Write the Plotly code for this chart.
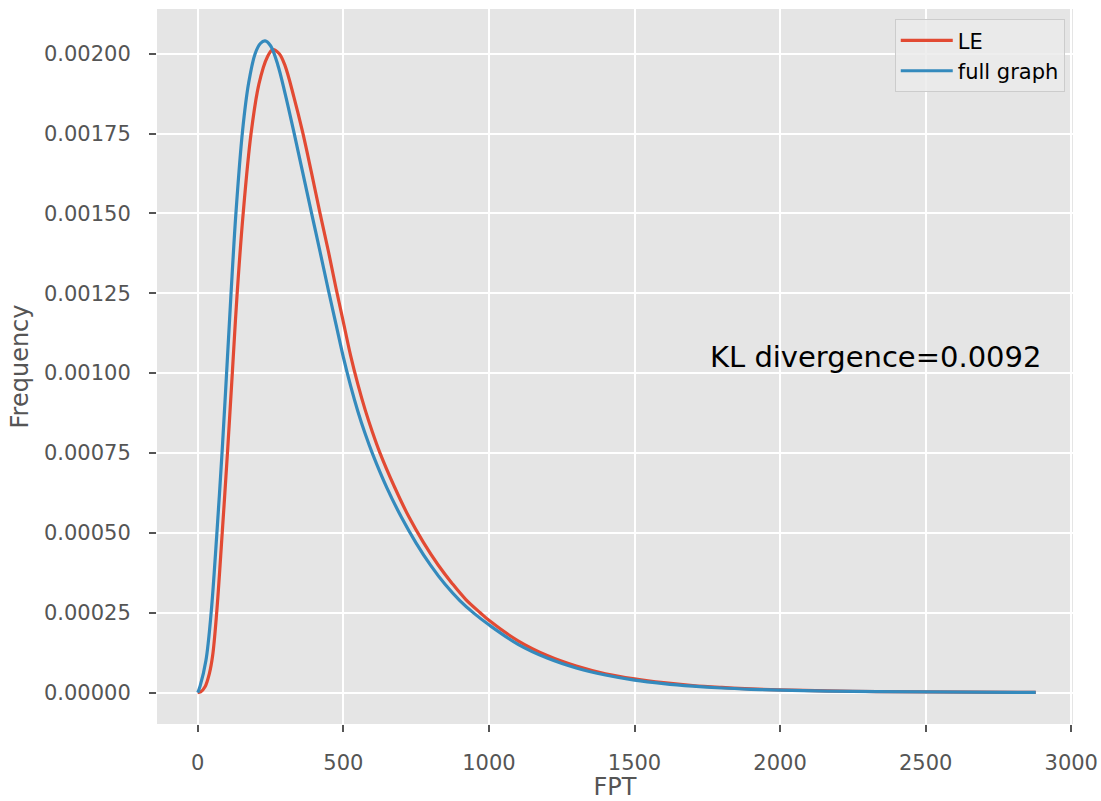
import plotly.graph_objects as go

# Data
le_x = [0, 10, 25, 40, 51, 65, 84, 102, 118, 135, 156, 183, 210, 239, 258, 280, 300,
        330, 360, 390, 420, 449, 475, 500, 525, 550, 575, 600, 625, 675, 725, 775, 825,
        875, 920, 970, 1000, 1100, 1200, 1300, 1400, 1500, 1600, 1700, 1800, 1900, 2000,
        2250, 2500, 2878]
le_y = [0, 0.000002, 0.000018, 0.00006, 0.000115, 0.00025, 0.0005, 0.00075, 0.00099,
        0.001245, 0.0015, 0.00175, 0.001905, 0.00199, 0.002013, 0.002, 0.001962,
        0.001865, 0.001755, 0.00163, 0.0015, 0.00138, 0.001265, 0.00116, 0.001055,
        0.000965, 0.000885, 0.000815, 0.000752, 0.000645, 0.00055, 0.00047, 0.0004,
        0.00034, 0.000292, 0.00025, 0.000226, 0.000162, 0.000116, 0.000083, 0.000059,
        0.000043, 0.000031, 0.000022, 0.000016, 0.0000113, 0.0000082,
        0.000004, 0.000002, 0.0000006]

full_x = [0, 8, 28, 46, 65, 84, 99, 114, 131, 154, 175, 197, 215, 231, 250, 275, 300,
          330, 360, 391, 420, 449, 475, 500, 525, 550, 575, 600, 650, 700, 750, 800, 850,
          900, 950, 1000, 1100, 1200, 1300, 1400, 1500, 1600, 1700, 1800, 1900, 2000,
          2250, 2500, 2878]
full_y = [0, 0.00002, 0.0001, 0.00025, 0.00049, 0.00076, 0.001, 0.001245, 0.0015,
          0.00176, 0.00191, 0.002, 0.002032, 0.00204, 0.002025, 0.001965, 0.001875,
          0.001755, 0.00163, 0.0015, 0.00138, 0.001258, 0.001152, 0.00105, 0.00096,
          0.00088, 0.00081, 0.000748, 0.00064, 0.000548, 0.000468, 0.000398, 0.000338,
          0.000288, 0.000247, 0.000212, 0.000151, 0.000108, 0.000077, 0.000055, 0.000039,
          0.000028, 0.00002, 0.0000142, 0.0000102, 0.0000073,
          0.0000036, 0.0000018, 0.0000005]

x_ticks = [0, 500, 1000, 1500, 2000, 2500, 3000]
y_ticks = [0, 0.00025, 0.0005, 0.00075, 0.001, 0.00125, 0.0015, 0.00175, 0.002]

kl_text = "KL divergence=0.0092"

FONT = "DejaVu Sans"

fig = go.Figure()
fig.add_trace(go.Scatter(x=le_x, y=le_y, mode="lines", name="LE",
                         line=dict(color="#E24A33", width=3.2, shape="spline", smoothing=1.0)))
fig.add_trace(go.Scatter(x=full_x, y=full_y, mode="lines", name="full graph",
                         line=dict(color="#348ABD", width=3.2, shape="spline", smoothing=1.0)))

fig.add_annotation(x=1752, y=0.001049, xref="x", yref="y", text=kl_text,
                   showarrow=False, xanchor="left", yanchor="middle",
                   font=dict(family=FONT, size=29, color="black"))

fig.update_layout(
    width=1101, height=801,
    margin=dict(l=157, r=28, t=9, b=77, autoexpand=False),
    paper_bgcolor="white",
    plot_bgcolor="#E5E5E5",
    font=dict(family=FONT, size=21, color="#555555"),
    showlegend=True,
    legend=dict(x=0.991, y=0.9856, xanchor="right", yanchor="top",
                bgcolor="rgba(235,235,235,0.85)", bordercolor="#CCCCCC", borderwidth=1,
                itemwidth=52,
                font=dict(family=FONT, size=21, color="black")),
)
fig.update_xaxes(range=[-140, 3006], tickvals=x_ticks, ticktext=[str(v) for v in x_ticks],
                 automargin=False,
                 showgrid=True, gridcolor="white", gridwidth=2, zeroline=False,
                 ticks="outside", ticklen=7, tickwidth=1.5, tickcolor="#555555",
                 ticklabelstandoff=13,
                 tickfont=dict(family=FONT, size=21, color="#555555"),
                 title=dict(text="FPT", standoff=15,
                            font=dict(family=FONT, size=24, color="#555555")))
fig.update_yaxes(range=[-0.0000985, 0.002140], tickvals=y_ticks,
                 ticktext=[f"{v:.5f}" for v in y_ticks],
                 automargin=False,
                 showgrid=True, gridcolor="white", gridwidth=2, zeroline=False,
                 ticks="outside", ticklen=7, tickwidth=1.5, tickcolor="#555555",
                 ticklabelstandoff=14,
                 tickfont=dict(family=FONT, size=21, color="#555555"),
                 title=dict(text="Frequency", standoff=8,
                            font=dict(family=FONT, size=24, color="#555555")))

fig.write_html("out.html")
